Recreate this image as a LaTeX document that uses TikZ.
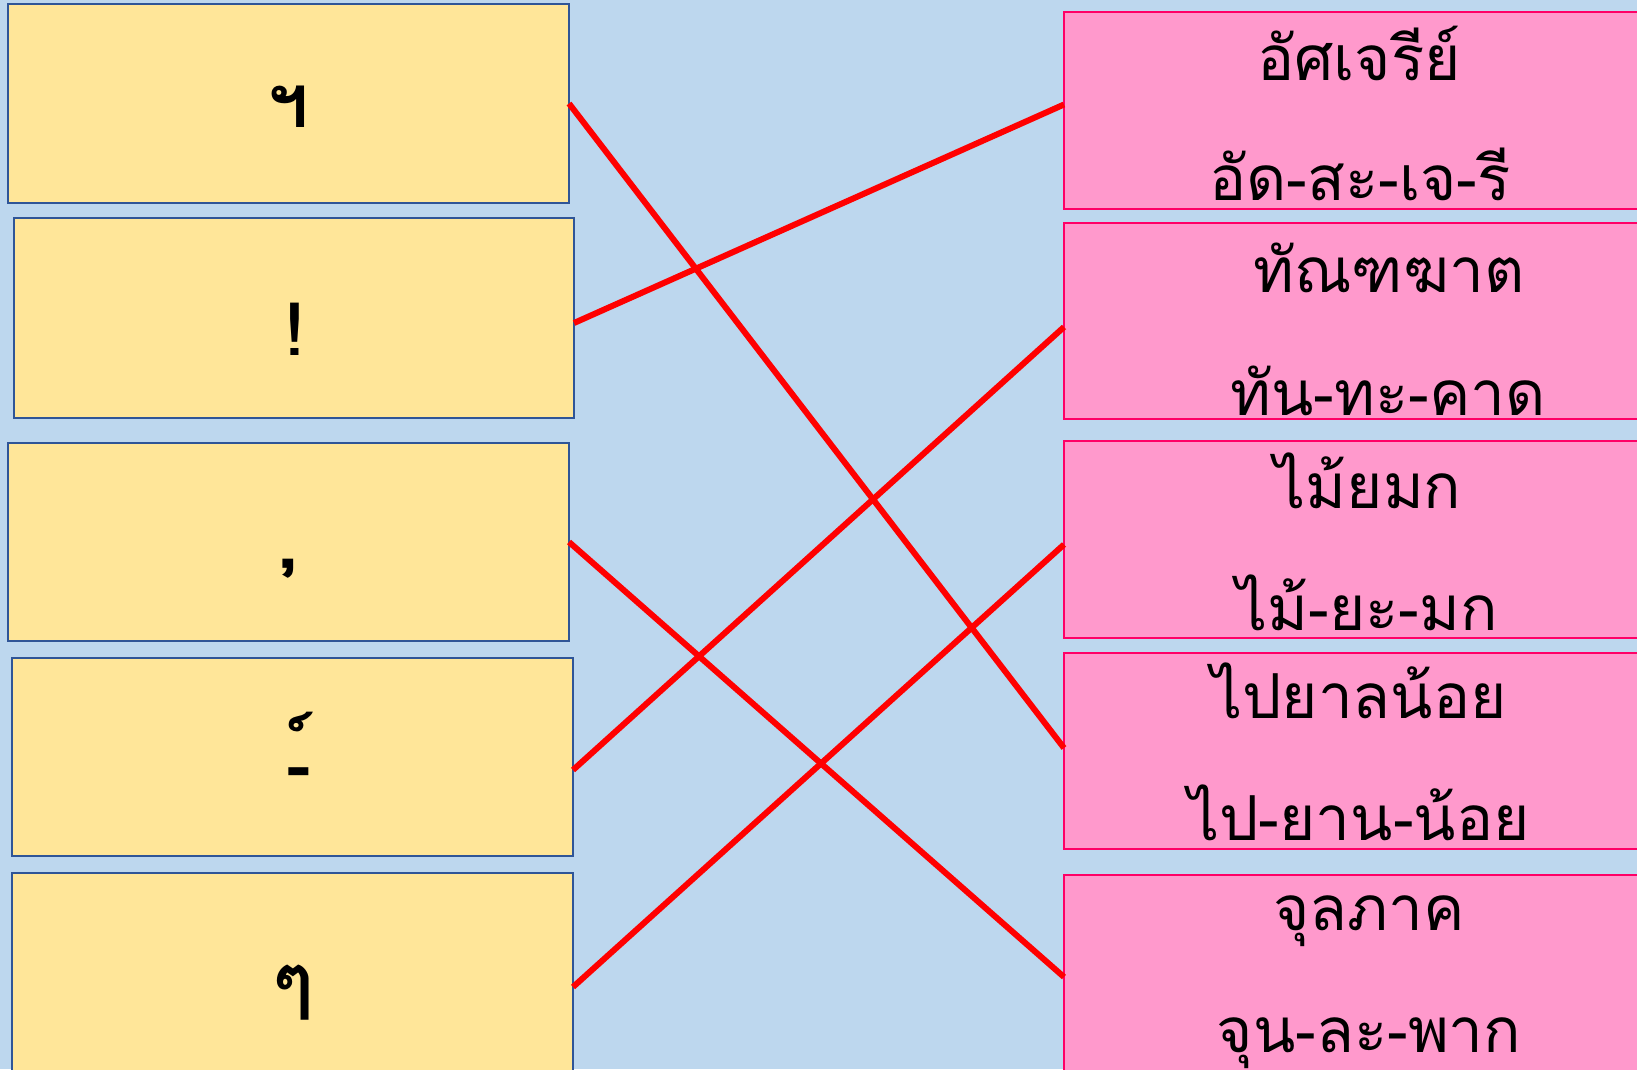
\documentclass[tikz,border=0pt]{standalone}
\usepackage{fontspec}
\newfontfamily\thai[Script=Thai]{Loma}
\definecolor{bgblue}{HTML}{BDD7EE}
\definecolor{yfill}{HTML}{FFE699}
\definecolor{yline}{HTML}{2F5597}
\definecolor{pfill}{HTML}{FF99CC}
\definecolor{pline}{HTML}{FF0066}
\definecolor{lred}{HTML}{FF0000}
\tikzset{
  ybox/.style={draw=yline, fill=yfill, line width=2pt, rectangle, inner sep=0pt, outer sep=0pt},
  pbox/.style={draw=pline, fill=pfill, line width=2.5pt, rectangle, inner sep=0pt, outer sep=0pt},
  sym/.style={anchor=base, inner sep=0pt, font=\thai\bfseries\fontsize{74}{80}\selectfont},
  word/.style={anchor=base, inner sep=0pt, font=\thai\fontsize{62}{70}\selectfont},
  match/.style={draw=lred, line width=6pt}
}
\begin{document}
\begin{tikzpicture}[x=1pt,y=-1pt]
\useasboundingbox (0,0) rectangle (1637,1069);
\fill[bgblue] (0,0) rectangle (1637,1069);
% left boxes
\node[ybox, minimum width=561pt, minimum height=199pt] (l1) at (288.5,103.5) {};
\node[ybox, minimum width=560pt, minimum height=200pt] (l2) at (294,318) {};
\node[ybox, minimum width=561pt, minimum height=198pt] (l3) at (288.5,542) {};
\node[ybox, minimum width=561pt, minimum height=198pt] (l4) at (292.5,757) {};
\node[ybox, minimum width=561pt, minimum height=202pt] (l5) at (292.5,974) {};
% right boxes
\node[pbox, minimum width=600pt, minimum height=197pt] (r1) at (1364,110.5) {};
\node[pbox, minimum width=600pt, minimum height=196pt] (r2) at (1364,321) {};
\node[pbox, minimum width=600pt, minimum height=197pt] (r3) at (1364,539.5) {};
\node[pbox, minimum width=600pt, minimum height=196pt] (r4) at (1364,751) {};
\node[pbox, minimum width=600pt, minimum height=200pt] (r5) at (1364,975) {};
% left symbols
\node[sym] (s1) at (288,127) {ฯ};
\node[sym] (s2) at (295,355) {!};
\node[sym] (s3) at (289,567) {,};
\node[sym] (s4) at (299,790) {-์};
\node[sym] (s5) at (293,1006) {ๆ};
% right words
\node[word] (w1a) at (1359,80) {อัศเจรีย์};
\node[word] (w1b) at (1360,200) {อัด-สะ-เจ-รี};
\node[word] (w2a) at (1389,292) {ทัณฑฆาต};
\node[word] (w2b) at (1388,415) {ทัน-ทะ-คาด};
\node[word] (w3a) at (1368,508) {ไม้ยมก};
\node[word] (w3b) at (1367,630) {ไม้-ยะ-มก};
\node[word] (w4a) at (1359,718) {ไปยาลน้อย};
\node[word] (w4b) at (1359,840) {ไป-ยาน-น้อย};
\node[word] (w5a) at (1369,930) {จุลภาค};
\node[word] (w5b) at (1369,1052) {จุน-ละ-พาก};
% connectors
\draw[match] (l1.east) -- ([yshift=3pt]r4.west);
\draw[match] ([yshift=-5pt]l2.east) -- ([yshift=6pt]r1.west);
\draw[match] (l3.east) -- ([yshift=-2pt]r5.west);
\draw[match] ([yshift=-13pt]l4.east) -- ([yshift=-6pt]r2.west);
\draw[match] ([yshift=-13pt]l5.east) -- ([yshift=-5pt]r3.west);
\end{tikzpicture}
\end{document}
